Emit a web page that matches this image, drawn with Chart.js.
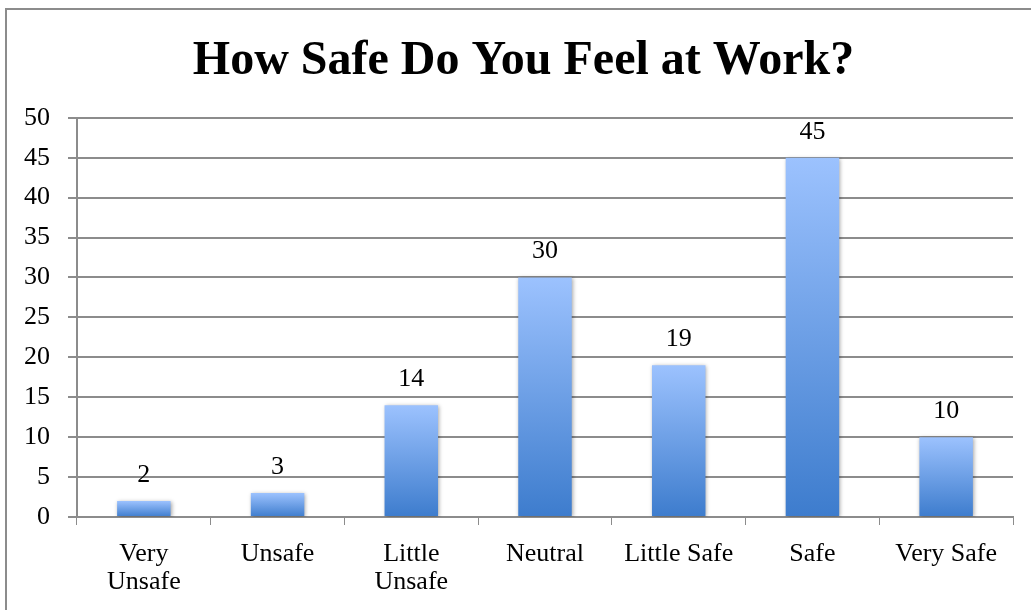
<!DOCTYPE html>
<html>
<head>
<meta charset="utf-8">
<script src="https://cdn.jsdelivr.net/npm/chart.js@4"></script>
<style>
  html, body { margin: 0; padding: 0; background: #ffffff; }
  #safety { display: block; }
</style>
</head>
<body>
<canvas id="safety" width="1031" height="610"></canvas>
<script>
// survey answers
var categories = [['Very', 'Unsafe'], 'Unsafe', ['Little', 'Unsafe'], 'Neutral', 'Little Safe', 'Safe', 'Very Safe'];
var responses = [2, 3, 14, 30, 19, 45, 10];
var y_ticks = [0, 5, 10, 15, 20, 25, 30, 35, 40, 45, 50];

var serif = "'Liberation Serif', 'Times New Roman', serif";
var line_grey = '#8c8c8c';

// frame round the whole chart, and the title nudged right of the axis labels
var frame_plugin = {
  id: 'frame',
  afterLayout: function (chart) {
    if (chart.titleBlock) chart.titleBlock.left = 34;
  },
  beforeDraw: function (chart) {
    var ctx = chart.ctx;
    ctx.save();
    ctx.strokeStyle = line_grey;
    ctx.lineWidth = 2;
    ctx.strokeRect(6, 9, 1200, 800);
    ctx.restore();
  }
};

// soft shadow behind the bars
var shadow_plugin = {
  id: 'barShadow',
  beforeDatasetsDraw: function (chart) {
    var ctx = chart.ctx;
    ctx.save();
    ctx.shadowColor = 'rgba(0,0,0,0.35)';
    ctx.shadowBlur = 4;
    ctx.shadowOffsetX = 1;
    ctx.shadowOffsetY = 1;
  },
  afterDatasetsDraw: function (chart) {
    chart.ctx.restore();
  }
};

// value printed above each bar
var value_plugin = {
  id: 'valueLabels',
  afterDatasetsDraw: function (chart) {
    var ctx = chart.ctx;
    var meta = chart.getDatasetMeta(0);
    ctx.save();
    ctx.font = '26px ' + serif;
    ctx.fillStyle = '#000000';
    ctx.textAlign = 'center';
    ctx.textBaseline = 'middle';
    meta.data.forEach(function (bar, i) {
      ctx.fillText(String(chart.data.datasets[0].data[i]), bar.x, bar.y - 26);
    });
    ctx.restore();
  }
};

// each bar runs light at its top to darker blue at the base
function bar_gradient(context) {
  var chart = context.chart;
  var area = chart.chartArea;
  if (!area || !chart.scales.y) return '#6a9be0';
  var top = chart.scales.y.getPixelForValue(context.raw);
  var bottom = chart.scales.y.getPixelForValue(0);
  if (!isFinite(top) || bottom - top < 1) top = bottom - 1;
  var g = chart.ctx.createLinearGradient(0, top, 0, bottom);
  g.addColorStop(0, '#9cc2fe');
  g.addColorStop(1, '#3d7ccd');
  return g;
}

var ctx = document.getElementById('safety').getContext('2d');
var safety_chart = new Chart(ctx, {
  type: 'bar',
  data: {
    labels: categories,
    datasets: [{
      data: responses,
      backgroundColor: bar_gradient,
      borderWidth: 0,
      barPercentage: 0.4,
      categoryPercentage: 1.0
    }]
  },
  options: {
    responsive: false,
    animation: false,
    layout: { padding: { left: 0, right: 18, top: 0, bottom: 0 } },
    plugins: {
      legend: { display: false },
      tooltip: { enabled: false },
      title: {
        display: true,
        text: 'How Safe Do You Feel at Work?',
        color: '#000000',
        font: { family: serif, size: 48, weight: 'bold', lineHeight: 1.1 },
        padding: { top: 35, bottom: 30 }
      }
    },
    scales: {
      x: {
        grid: { display: true, drawOnChartArea: false, color: line_grey, tickLength: 8, offset: true },
        border: { color: line_grey, width: 2 },
        ticks: {
          color: '#000000',
          font: { family: serif, size: 26, lineHeight: 1.08 },
          padding: 15,
          maxRotation: 0,
          autoSkip: false
        },
        afterFit: function (scale) { scale.height = 93; }
      },
      y: {
        min: 0,
        max: 50,
        afterBuildTicks: function (scale) {
          scale.ticks = y_ticks.map(function (v) { return { value: v }; });
        },
        grid: { color: line_grey, lineWidth: 2, tickLength: 9 },
        border: { color: line_grey, width: 2 },
        ticks: {
          color: '#000000',
          font: { family: serif, size: 26 },
          padding: 18
        },
        afterFit: function (scale) { scale.width = 77; }
      }
    }
  },
  plugins: [frame_plugin, shadow_plugin, value_plugin]
});
</script>
</body>
</html>
